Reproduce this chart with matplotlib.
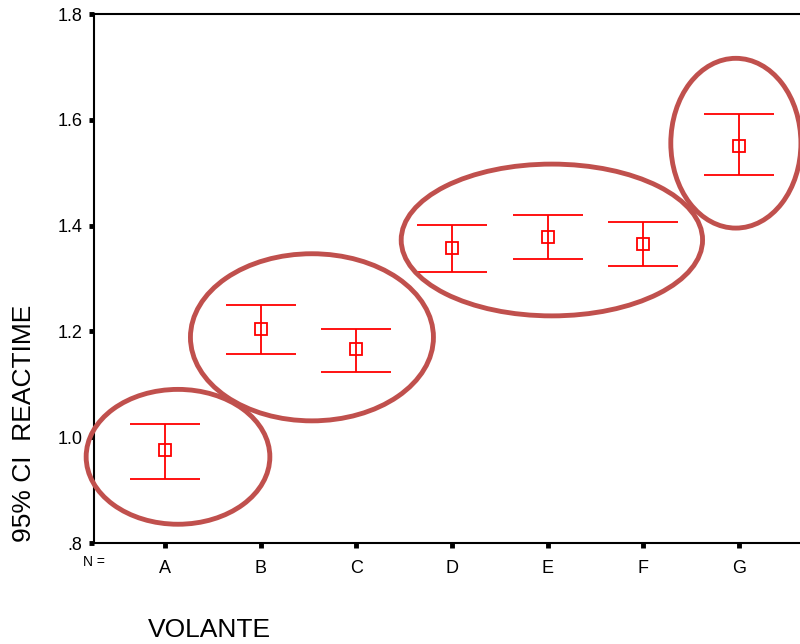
import matplotlib
matplotlib.use("Agg")
import matplotlib.pyplot as plt
from matplotlib.patches import Ellipse
import numpy as np

# data
categories = ["A", "B", "C", "D", "E", "F", "G"]
means = [0.975, 1.204, 1.167, 1.358, 1.378, 1.365, 1.551]
lower = [0.922, 1.157, 1.123, 1.312, 1.337, 1.324, 1.496]
upper = [1.026, 1.250, 1.204, 1.401, 1.420, 1.407, 1.611]
y_ticks = [0.8, 1.0, 1.2, 1.4, 1.6, 1.8]
y_tick_labels = [".8", "1.0", "1.2", "1.4", "1.6", "1.8"]

# highlight circles: (center x, center y, width, height) in data units
groups = [
    (0.136, 0.963, 1.92, 0.255),
    (1.536, 1.189, 2.54, 0.316),
    (4.044, 1.373, 3.15, 0.287),
    (5.967, 1.556, 1.36, 0.321),
]

plt.rcParams["font.family"] = ["Liberation Sans", "DejaVu Sans"]

fig = plt.figure(figsize=(8.0, 6.44), dpi=100)
ax = fig.add_axes([0.1175, 0.1568, 0.895, 0.8212])

x = np.arange(len(categories))
m = np.array(means)
err = [m - np.array(lower), np.array(upper) - m]
ax.errorbar(x, m, yerr=err, fmt="s", mfc="none", mec="#ff0000", mew=1.3,
            ms=8, ecolor="#ff0000", elinewidth=1.3, capsize=25, capthick=1.3,
            zorder=3)

for cx, cy, w, h in groups:
    ax.add_patch(Ellipse((cx, cy), w, h, fill=False, ec="#c0504d", lw=3.5,
                         zorder=4, clip_on=False))

ax.set_xlim(-0.742, 6.742)
ax.set_ylim(0.8, 1.8)
ax.set_xticks(x)
ax.set_xticklabels(categories, fontsize=13)
ax.set_yticks(y_ticks)
ax.set_yticklabels(y_tick_labels, fontsize=13)
ax.tick_params(axis="both", direction="out", length=3.5, width=3.5, color="black")
ax.tick_params(axis="x", pad=9)
ax.tick_params(axis="y", pad=5)

for side in ["left", "bottom", "top", "right"]:
    ax.spines[side].set_linewidth(1.5)
    ax.spines[side].set_color("black")

fig.text(0.104, 0.127, "N =", fontsize=10, ha="left", va="center")
fig.text(0.185, 0.021, "VOLANTE", fontsize=19, ha="left", va="center")
fig.text(0.030, 0.342, "95% CI  REACTIME", fontsize=19, rotation=90,
         ha="center", va="center")

fig.savefig("out.png", dpi=100)
